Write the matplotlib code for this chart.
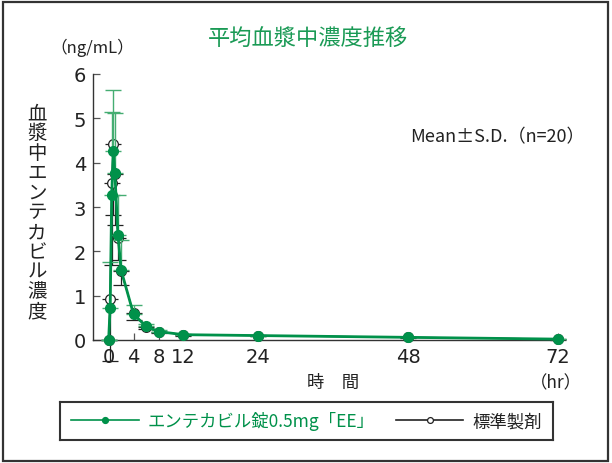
import matplotlib
matplotlib.use("Agg")
import matplotlib.pyplot as plt
from matplotlib.patches import Rectangle
from matplotlib.font_manager import FontProperties

# ---- data ----
hours = [0, 0.25, 0.5, 0.75, 1, 1.5, 2, 4, 6, 8, 12, 24, 48, 72]
ee_mean = [0, 0.73, 3.27, 4.27, 3.77, 2.37, 1.58, 0.58, 0.31, 0.19, 0.12, 0.10, 0.06, 0.02]
ee_sd = [0, 1.04, 1.88, 1.37, 1.36, 0.89, 0.67, 0.20, 0.06, 0.04, 0.02, 0.02, 0.01, 0.01]
std_mean = [0, 0.93, 3.55, 4.41, 3.75, 2.30, 1.55, 0.60, 0.30, 0.19, 0.12, 0.10, 0.06, 0.02]
std_sd = [0, 1.40, 1.86, 1.60, 1.16, 0.50, 0.32, 0.16, 0.06, 0.04, 0.02, 0.02, 0.01, 0.01]
no_err = [0] * len(hours)

x_ticks = [0, 4, 8, 12, 24, 48, 72]
y_ticks = [0, 1, 2, 3, 4, 5, 6]

ee_label = "エンテカビル錠0.5mg「EE」"
std_label = "標準製剤"
title = "平均血漿中濃度推移"
y_title = "血漿中エンテカビル濃度"

GREEN = "#00914a"
GREEN_ERR = "#45ad72"
DARK = "#222222"

plt.rcParams["font.family"] = ["Noto Sans CJK JP", "DejaVu Sans"]
num_font = FontProperties(family=["Liberation Sans Narrow", "DejaVu Sans"], size=14)

W, H = 612, 464
fig = plt.figure(figsize=(W / 100, H / 100), dpi=100)

# figure frame
fig.patches.append(Rectangle((3 / W, 2 / H), 605 / W, 459 / H, transform=fig.transFigure,
                             fill=False, edgecolor="#333333", linewidth=1.6))

ax = fig.add_axes([93 / W, 123 / H, 468 / W, 266 / H])

# reference product: lower SD only
std_err = ax.errorbar(hours, std_mean, yerr=[std_sd, no_err], color=DARK, ecolor=DARK,
                      elinewidth=0.9, capsize=6, capthick=0.9, linewidth=1.0,
                      marker="o", markersize=7, markerfacecolor="white",
                      markeredgecolor=DARK, markeredgewidth=0.9, zorder=3)
# test product: upper SD only
ee_err = ax.errorbar(hours, ee_mean, yerr=[no_err, ee_sd], color=GREEN, ecolor=GREEN_ERR,
                     elinewidth=1.0, capsize=6, capthick=1.0, linewidth=2.0,
                     marker="o", markersize=7, markerfacecolor=GREEN,
                     markeredgecolor=GREEN, zorder=5)
for cont in (std_err, ee_err):
    for artist in cont.lines[1] + cont.lines[2]:
        artist.set_clip_on(False)
    cont.lines[0].set_clip_on(False)

ax.set_xlim(-2.5, 72.5)
ax.set_ylim(0, 6)
ax.set_xticks(x_ticks)
ax.set_yticks(y_ticks)
for s in ("top", "right"):
    ax.spines[s].set_visible(False)
for s in ("left", "bottom"):
    ax.spines[s].set_color("#333333")
    ax.spines[s].set_linewidth(1.0)
ax.tick_params(direction="in", length=5, width=0.9, color="#555555", labelcolor=DARK)
ax.tick_params(axis="y", pad=5)
ax.tick_params(axis="x", pad=5)
for lab in ax.get_xticklabels() + ax.get_yticklabels():
    lab.set_fontproperties(num_font)

# texts
fig.text(308 / W, 1 - 39 / H, title, color="#1a9a55", fontsize=16, ha="center", va="center")
fig.text(92 / W, 1 - 48 / H, "（ng/mL）", color=DARK, fontsize=12, ha="center", va="center")
fig.text(497 / W, 1 - 137 / H, "Mean±S.D.（n=20）", color=DARK, fontsize=13,
         ha="center", va="center")
fig.text(333 / W, 1 - 383 / H, "時　間", color=DARK, fontsize=12.5, ha="center", va="center")
fig.text(556 / W, 1 - 383 / H, "（hr）", color=DARK, fontsize=12.5, ha="center", va="center")

# vertical y-axis title, one character per line
for i, ch in enumerate(y_title):
    fig.text(37 / W, 1 - (114 + i * 19.8) / H, ch, color=DARK, fontsize=14,
             ha="center", va="center")

# legend box
lax = fig.add_axes([60 / W, 23 / H, 493 / W, 38 / H])
lax.set_xticks([])
lax.set_yticks([])
for s in lax.spines.values():
    s.set_color("#333333")
    s.set_linewidth(1.5)
leg = lax.legend([ee_err.lines[0], std_err.lines[0]], [ee_label, std_label],
                 loc="center", ncol=2, frameon=False, fontsize=12.5,
                 handlelength=3.9, handletextpad=0.5, columnspacing=1.2, markerscale=0.6)
for h in leg.legend_handles:
    h.set_linewidth(1.2)
leg.get_texts()[0].set_color(GREEN)
leg.get_texts()[1].set_color(DARK)

fig.savefig("out.png", dpi=100)
